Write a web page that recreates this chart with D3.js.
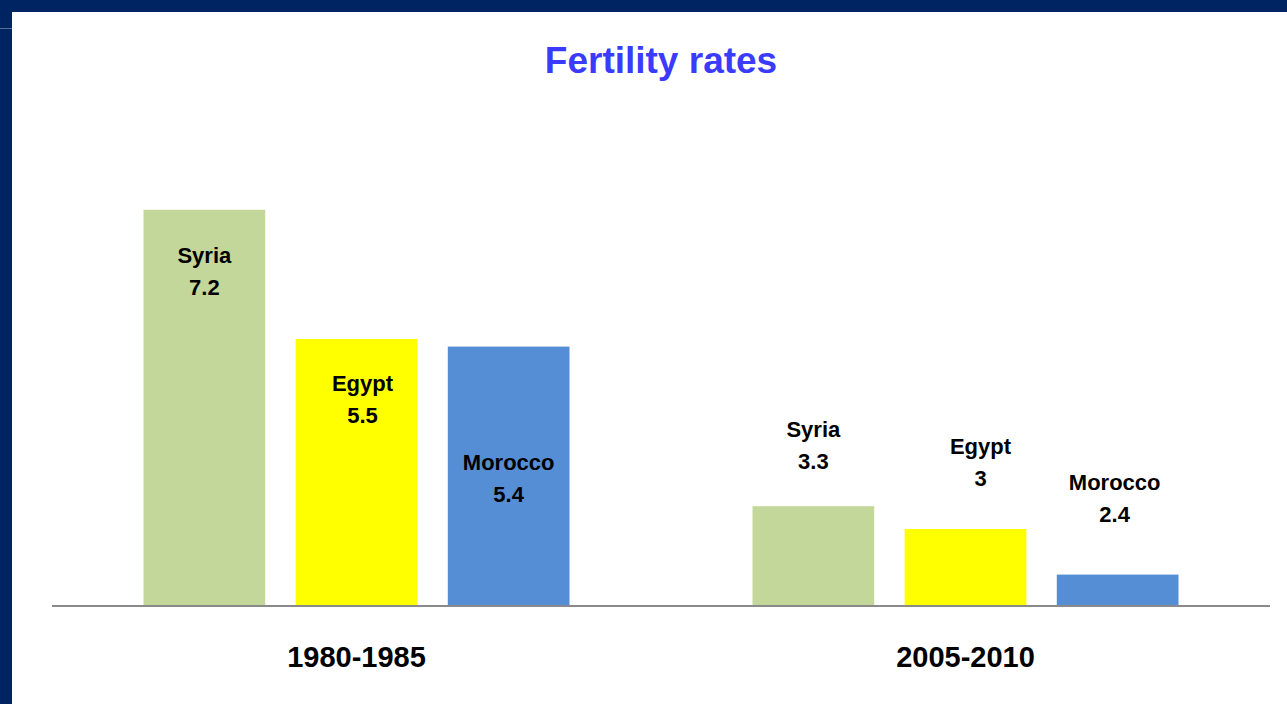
<!DOCTYPE html>
<html>
<head>
<meta charset="utf-8">
<script src="https://cdn.jsdelivr.net/npm/d3@7"></script>
<style>
    body { margin: 0; background: #fff; overflow: hidden; }
    text { font-family: "Liberation Sans", Arial, sans-serif; font-weight: bold; }
</style>
</head>
<body>
<div id="chart"></div>
<script>

// data
var periods = ["1980-1985", "2005-2010"];
var countries = ["Syria", "Egypt", "Morocco"];
var rates1980 = [7.2, 5.5, 5.4];
var rates2005 = [3.3, 3, 2.4];
var barColors = ["#c4d79b", "#ffff00", "#558ed5"];

var rows = [];
periods.forEach(function (p, i) {
    var vals = i === 0 ? rates1980 : rates2005;
    countries.forEach(function (c, j) {
        rows.push({period: p, country: c, value: vals[j], idx: rows.length});
    });
});

// label nudges (as placed by hand in the original), dx / dy from bar top
var labelShift = [[0, 53], [6, 52], [0, 123], [0, -69], [15, -75], [-3, -85]];

var width = 1287, height = 704;

var svg = d3.select("#chart")
    .append("svg")
    .attr("width", width)
    .attr("height", height);

// frame
svg.append("rect").attr("x", 0).attr("y", 0).attr("width", width).attr("height", 12).attr("fill", "#002461");
svg.append("rect").attr("x", 0).attr("y", 0).attr("width", 12).attr("height", height).attr("fill", "#002461");
svg.append("rect").attr("x", 0).attr("y", 28).attr("width", 12).attr("height", 1).attr("fill", "#5a6f96");

var x0 = d3.scaleBand().domain(periods).range([52, 1270]).padding(0);
var x1 = d3.scaleBand().domain(countries).range([-213, 213]).paddingInner(0.2).paddingOuter(0);
var y = d3.scaleLinear().domain([2, 8]).range([605, 149]);
var color = d3.scaleOrdinal().domain(countries).range(barColors);

function cx(d) {
    return x0(d.period) + x0.bandwidth() / 2 + x1(d.country);
}

svg.selectAll("rect.bar")
    .data(rows)
    .enter()
    .append("rect")
    .attr("class", "bar")
    .attr("x", cx)
    .attr("width", x1.bandwidth())
    .attr("y", function (d) { return y(d.value); })
    .attr("height", function (d) { return y.range()[0] - y(d.value); })
    .attr("fill", function (d) { return color(d.country); });

// axis line
svg.append("line")
    .attr("x1", 52)
    .attr("x2", 1270)
    .attr("y1", 606)
    .attr("y2", 606)
    .attr("stroke", "#8a8a8a")
    .attr("stroke-width", 2);

// bar labels
var lab = svg.selectAll("g.lab")
    .data(rows)
    .enter()
    .append("g")
    .attr("class", "lab")
    .attr("transform", function (d) {
        var s = labelShift[d.idx];
        return "translate(" + (cx(d) + x1.bandwidth() / 2 + s[0]) + "," + (y(d.value) + s[1]) + ")";
    });

lab.append("text")
    .attr("text-anchor", "middle")
    .style("font-size", "22px")
    .attr("fill", "#000")
    .text(function (d) { return d.country; });

lab.append("text")
    .attr("text-anchor", "middle")
    .attr("y", 32)
    .style("font-size", "22px")
    .attr("fill", "#000")
    .text(function (d) { return d.value; });

// period labels
svg.selectAll("text.period")
    .data(periods)
    .enter()
    .append("text")
    .attr("class", "period")
    .attr("x", function (d) { return x0(d) + x0.bandwidth() / 2; })
    .attr("y", 667)
    .attr("text-anchor", "middle")
    .style("font-size", "29px")
    .attr("fill", "#000")
    .text(function (d) { return d; });

// title
svg.append("text")
    .attr("x", 661)
    .attr("y", 73)
    .attr("text-anchor", "middle")
    .style("font-size", "37px")
    .attr("fill", "#3b3bff")
    .text("Fertility rates");

</script>
</body>
</html>
